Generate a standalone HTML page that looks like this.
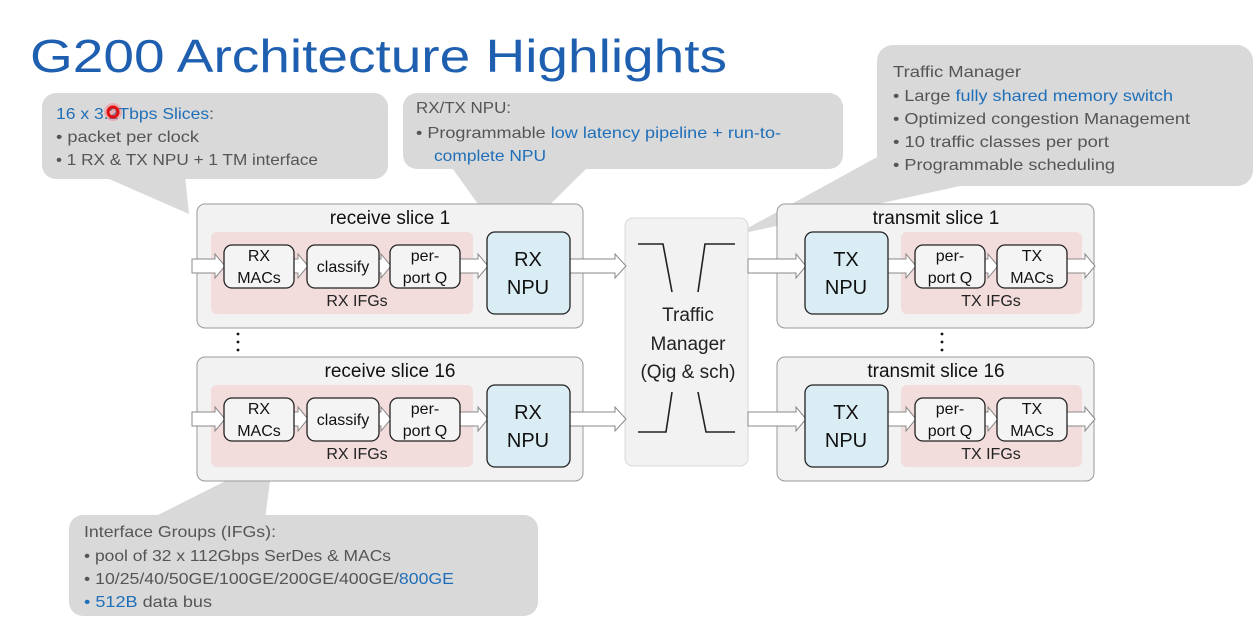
<!DOCTYPE html>
<html><head><meta charset="utf-8"><style>
html,body{margin:0;padding:0;background:#fff;}
svg{display:block;font-family:"Liberation Sans",sans-serif;}
</style></head><body>
<svg width="1258" height="632" viewBox="0 0 1258 632" xmlns="http://www.w3.org/2000/svg">
<defs>
<g id="arr"><polygon points="0,-6 -0,6 0,6" /></g>
</defs>
<text x="30" y="72" font-size="46" fill="#1f5fb0" textLength="697" lengthAdjust="spacingAndGlyphs">G200 Architecture Highlights</text>

<!-- callouts -->
<g fill="#d9d9da">
<rect x="42" y="93" width="346" height="86" rx="14"/>
<polygon points="100,175 185,175 189,214"/>
<rect x="403" y="93" width="440" height="76" rx="14"/>
<polygon points="450,165 590,165 508,246"/>
<rect x="877" y="45" width="376" height="141" rx="16"/>
<polygon points="890,150 960,186 735,235"/>
<rect x="69" y="515" width="469" height="101" rx="14"/>
<polygon points="148,520 265,520 273,457"/>
</g>
<g font-size="16" fill="#555">
<text x="56" y="119" fill="#1f6fb8" textLength="158" lengthAdjust="spacingAndGlyphs">16 x 3.2Tbps Slices<tspan fill="#555">:</tspan></text>
<text x="56" y="142" textLength="143" lengthAdjust="spacingAndGlyphs">•  packet per clock</text>
<text x="56" y="165" textLength="262" lengthAdjust="spacingAndGlyphs">•  1 RX &amp; TX NPU + 1 TM interface</text>
<text x="416" y="113" textLength="95" lengthAdjust="spacingAndGlyphs">RX/TX NPU:</text>
<text x="416" y="138" textLength="365" lengthAdjust="spacingAndGlyphs">•  Programmable <tspan fill="#1f6fb8">low latency pipeline + run-to-</tspan></text>
<text x="434" y="161" fill="#1f6fb8" textLength="112" lengthAdjust="spacingAndGlyphs">complete NPU</text>
<text x="893" y="77" textLength="128" lengthAdjust="spacingAndGlyphs">Traffic Manager</text>
<text x="893" y="101" textLength="280" lengthAdjust="spacingAndGlyphs">•  Large <tspan fill="#1f6fb8">fully shared memory switch</tspan></text>
<text x="893" y="124" textLength="297" lengthAdjust="spacingAndGlyphs">•  Optimized congestion Management</text>
<text x="893" y="147" textLength="216" lengthAdjust="spacingAndGlyphs">•  10 traffic classes per port</text>
<text x="893" y="170" textLength="222" lengthAdjust="spacingAndGlyphs">•  Programmable scheduling</text>
<text x="84" y="537" textLength="192" lengthAdjust="spacingAndGlyphs">Interface Groups (IFGs):</text>
<text x="84" y="561" textLength="307" lengthAdjust="spacingAndGlyphs">•  pool of 32 x 112Gbps SerDes &amp; MACs</text>
<text x="84" y="584" textLength="370" lengthAdjust="spacingAndGlyphs">•  10/25/40/50GE/100GE/200GE/400GE/<tspan fill="#1f6fb8">800GE</tspan></text>
<text x="84" y="607" textLength="128" lengthAdjust="spacingAndGlyphs"><tspan fill="#1f6fb8">•  512B</tspan> data bus</text>
</g>
<circle cx="113" cy="112" r="9" fill="#ff6060" opacity="0.35"/>
<circle cx="113" cy="112" r="5" fill="none" stroke="#e01010" stroke-width="3"/>

<!-- TM -->
<rect x="625" y="218" width="123" height="248" rx="8" fill="#f2f2f2" stroke="#d8d8d8"/>
<g stroke="#222" stroke-width="1.6" fill="none">
<polyline points="638,244 663,244 672,292"/>
<polyline points="698,292 705,244 735,244"/>
<polyline points="638,432 666,432 672,392"/>
<polyline points="698,392 706,432 735,432"/>
</g>
<g font-size="19" fill="#222" text-anchor="middle">
<text x="688" y="321">Traffic</text>
<text x="688" y="350">Manager</text>
<text x="688" y="378">(Qig &amp; sch)</text>
</g>

<!-- slice template rows -->
<g id="rx1">
<rect x="197" y="204" width="386" height="124" rx="8" fill="#f2f2f2" stroke="#999"/>
<text x="390" y="224" font-size="19" text-anchor="middle" fill="#111">receive slice 1</text>
<rect x="211" y="232" width="262" height="82" rx="6" fill="#f3dcdc"/>
<text x="357" y="306" font-size="16" text-anchor="middle" fill="#222">RX IFGs</text>
</g>
<g>
<rect x="197" y="357" width="386" height="124" rx="8" fill="#f2f2f2" stroke="#999"/>
<text x="390" y="377" font-size="19" text-anchor="middle" fill="#111">receive slice 16</text>
<rect x="211" y="385" width="262" height="82" rx="6" fill="#f3dcdc"/>
<text x="357" y="459" font-size="16" text-anchor="middle" fill="#222">RX IFGs</text>
</g>
<g>
<rect x="777" y="204" width="317" height="124" rx="8" fill="#f2f2f2" stroke="#999"/>
<text x="936" y="224" font-size="19" text-anchor="middle" fill="#111">transmit slice 1</text>
<rect x="901" y="232" width="181" height="82" rx="6" fill="#f3dcdc"/>
<text x="991" y="306" font-size="16" text-anchor="middle" fill="#222">TX IFGs</text>
</g>
<g>
<rect x="777" y="357" width="317" height="124" rx="8" fill="#f2f2f2" stroke="#999"/>
<text x="936" y="377" font-size="19" text-anchor="middle" fill="#111">transmit slice 16</text>
<rect x="901" y="385" width="181" height="82" rx="6" fill="#f3dcdc"/>
<text x="991" y="459" font-size="16" text-anchor="middle" fill="#222">TX IFGs</text>
</g>

<!-- arrows: row1 y=266, row2 y=419 -->
<g fill="#fff" stroke="#888" stroke-width="1">
<polygon points="192,259 215,259 215,254 225,266 215,278 215,273 192,273"/>
<polygon points="294,259 298,259 298,254 308,266 298,278 298,273 294,273"/>
<polygon points="379,259 381,259 381,254 391,266 381,278 381,273 379,273"/>
<polygon points="460,259 478,259 478,254 488,266 478,278 478,273 460,273"/>
<polygon points="570,259 615,259 615,254 626,266 615,278 615,273 570,273"/>
<polygon points="748,259 796,259 796,254 806,266 796,278 796,273 748,273"/>
<polygon points="888,259 906,259 906,254 916,266 906,278 906,273 888,273"/>
<polygon points="985,259 988,259 988,254 998,266 988,278 988,273 985,273"/>
<polygon points="1067,259 1085,259 1085,254 1095,266 1085,278 1085,273 1067,273"/>
<polygon points="192,412 215,412 215,407 225,419 215,431 215,426 192,426"/>
<polygon points="294,412 298,412 298,407 308,419 298,431 298,426 294,426"/>
<polygon points="379,412 381,412 381,407 391,419 381,431 381,426 379,426"/>
<polygon points="460,412 478,412 478,407 488,419 478,431 478,426 460,426"/>
<polygon points="570,412 615,412 615,407 626,419 615,431 615,426 570,426"/>
<polygon points="748,412 796,412 796,407 806,419 796,431 796,426 748,426"/>
<polygon points="888,412 906,412 906,407 916,419 906,431 906,426 888,426"/>
<polygon points="985,412 988,412 988,407 998,419 988,431 988,426 985,426"/>
<polygon points="1067,412 1085,412 1085,407 1095,419 1085,431 1085,426 1067,426"/>
</g>

<!-- small boxes -->
<g fill="#f4f4f4" stroke="#222" stroke-width="1.3">
<rect x="224" y="245" width="70" height="43" rx="8"/>
<rect x="307" y="245" width="72" height="43" rx="8"/>
<rect x="390" y="245" width="70" height="43" rx="8"/>
<rect x="224" y="398" width="70" height="43" rx="8"/>
<rect x="307" y="398" width="72" height="43" rx="8"/>
<rect x="390" y="398" width="70" height="43" rx="8"/>
<rect x="915" y="245" width="70" height="43" rx="8"/>
<rect x="997" y="245" width="70" height="43" rx="8"/>
<rect x="915" y="398" width="70" height="43" rx="8"/>
<rect x="997" y="398" width="70" height="43" rx="8"/>
</g>
<g fill="#daedf4" stroke="#222" stroke-width="1.3">
<rect x="487" y="232" width="83" height="82" rx="8"/>
<rect x="487" y="385" width="83" height="82" rx="8"/>
<rect x="805" y="232" width="83" height="82" rx="8"/>
<rect x="805" y="385" width="83" height="82" rx="8"/>
</g>
<g font-size="16" fill="#111" text-anchor="middle">
<text x="259" y="261">RX</text><text x="259" y="283">MACs</text>
<text x="343" y="272">classify</text>
<text x="425" y="261">per-</text><text x="425" y="283">port Q</text>
<text x="259" y="414">RX</text><text x="259" y="436">MACs</text>
<text x="343" y="425">classify</text>
<text x="425" y="414">per-</text><text x="425" y="436">port Q</text>
<text x="950" y="261">per-</text><text x="950" y="283">port Q</text>
<text x="1032" y="261">TX</text><text x="1032" y="283">MACs</text>
<text x="950" y="414">per-</text><text x="950" y="436">port Q</text>
<text x="1032" y="414">TX</text><text x="1032" y="436">MACs</text>
</g>
<g font-size="20" fill="#111" text-anchor="middle">
<text x="528" y="266">RX</text><text x="528" y="294">NPU</text>
<text x="528" y="419">RX</text><text x="528" y="447">NPU</text>
<text x="846" y="266">TX</text><text x="846" y="294">NPU</text>
<text x="846" y="419">TX</text><text x="846" y="447">NPU</text>
</g>
<g fill="#111">
<circle cx="238" cy="334" r="1.4"/><circle cx="238" cy="342" r="1.4"/><circle cx="238" cy="350" r="1.4"/>
<circle cx="942" cy="334" r="1.4"/><circle cx="942" cy="342" r="1.4"/><circle cx="942" cy="350" r="1.4"/>
</g>
</svg>
</body></html>
